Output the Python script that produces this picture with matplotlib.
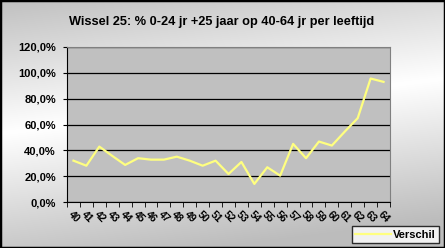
import numpy as np
import matplotlib
matplotlib.use("Agg")
import matplotlib.pyplot as plt
from matplotlib.patches import Rectangle
from matplotlib.ticker import FuncFormatter, MultipleLocator

ages = [str(a) for a in range(40, 65)]
verschil = [32.0, 28.1, 42.9, 35.7, 28.7, 33.9, 32.8, 32.8, 35.1, 32.0,
            28.1, 32.0, 21.7, 31.0, 14.0, 26.9, 20.4, 45.0, 33.9, 46.8,
            43.7, 54.5, 64.9, 95.6, 93.0]
title = "Wissel 25: % 0-24 jr +25 jaar op 40-64 jr per leeftijd"
series_name = "Verschil"

plt.rcParams['font.family'] = ['Liberation Sans', 'DejaVu Sans']

W, H = 445, 248
fig = plt.figure(figsize=(W / 100, H / 100), dpi=100)

# gradient background
bg = fig.add_axes([0, 0, 1, 1], zorder=-10)
yy, xx = np.mgrid[0:H, 0:W]
line_y = 133 - (55 / 445) * xx
d = np.abs(yy - line_y)
v = 1.0 - np.clip(d / 140.0, 0, 1) * 0.26
img = np.dstack([v, v, v])
bg.imshow(img, aspect='auto', extent=[0, 1, 0, 1], origin='upper')
bg.set_axis_off()
bg.add_patch(Rectangle((0, 0), 1, 1, transform=bg.transAxes, fill=False,
                       edgecolor='black', linewidth=2.5))

ax = fig.add_axes([67 / W, 1 - 202 / H, (390 - 67) / W, (202 - 47) / H])
ax.set_facecolor('#c0c0c0')
x = np.arange(len(ages))
ax.plot(x, verschil, color='#ffff80', linewidth=1.6, label=series_name, zorder=3)
ax.set_xlim(-0.5, len(ages) - 0.5)
ax.set_ylim(0, 120)
ax.yaxis.set_major_locator(MultipleLocator(20))
ax.yaxis.set_major_formatter(FuncFormatter(lambda v, p: f"{v:.1f}".replace('.', ',') + "%"))
ax.grid(axis='y', color='black', linewidth=0.9)
ax.set_axisbelow(True)
ax.set_xticks(x)
ax.set_xticklabels(ages, rotation=-45, ha='left', rotation_mode='anchor',
                   fontsize=7.5, fontweight='bold')
ax.set_xticks(np.arange(len(ages) + 1) - 0.5, minor=True)
ax.tick_params(axis='x', which='major', length=0, pad=5)
ax.tick_params(axis='x', which='minor', length=3.5, direction='out', color='black')
ax.tick_params(axis='y', length=3, direction='out', color='black', labelsize=8, pad=5)
for lab in ax.get_yticklabels():
    lab.set_fontweight('bold')
ax.spines['left'].set_color('black')
ax.spines['bottom'].set_color('black')
ax.spines['top'].set_color('#808080')
ax.spines['right'].set_color('#808080')

fig.text(0.5 * (64 + 379) / W, 1 - 22 / H, title, ha='center', va='center',
         fontsize=9.2, fontweight='bold')

leg = fig.legend(loc='lower left', bbox_to_anchor=(352 / W, 1 - 243 / H),
                 frameon=True, fancybox=False, prop={'weight': 'bold', 'size': 8},
                 handlelength=3.2, borderpad=0.3, handletextpad=0.2, borderaxespad=0)
leg.get_frame().set_edgecolor('black')
leg.get_frame().set_facecolor('white')
leg.get_frame().set_linewidth(1)

fig.savefig('out.png', dpi=100)
